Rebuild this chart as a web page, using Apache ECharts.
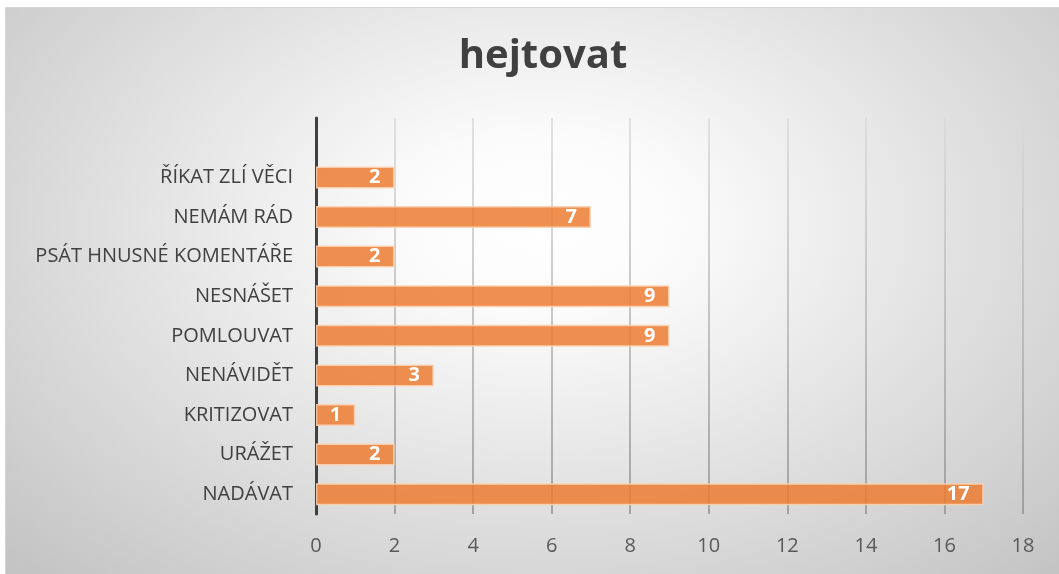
<!DOCTYPE html>
<html>
<head>
<meta charset="utf-8">
<script src="https://cdn.jsdelivr.net/npm/echarts@6/dist/echarts.min.js"></script>
<style>
  html, body { margin: 0; padding: 0; background: #fff; }
  #bg {
    position: absolute; left: 5px; top: 7px; right: 0; bottom: 0;
    border-top: 1px solid #d6d6d6; border-left: 1px solid #d6d6d6;
    background: radial-gradient(ellipse at 51% 38%, #ffffff 0%, #fbfbfb 18%, #c2c2c2 100%);
  }
  #chart { position: absolute; left: 0; top: 0; width: 1059px; height: 574px; }
</style>
</head>
<body>
<div id="bg"></div>
<div id="chart"></div>
<script>
// kategorie odspodu nahoru (poslední prázdná jako v originálu)
const categories = ['NADÁVAT', 'URÁŽET', 'KRITIZOVAT', 'NENÁVIDĚT', 'POMLOUVAT', 'NESNÁŠET', 'PSÁT HNUSNÉ KOMENTÁŘE', 'NEMÁM RÁD', 'ŘÍKAT ZLÍ VĚCI', ''];
const counts = [17, 2, 1, 3, 9, 9, 2, 7, 2, '-'];
const xTicks = [0, 2, 4, 6, 8, 10, 12, 14, 16, 18];

const chart = echarts.init(document.getElementById('chart'));

const gridColor = new echarts.graphic.LinearGradient(0, 0, 0, 1, [
  { offset: 0, color: '#dadada' },
  { offset: 1, color: '#8e8e8e' }
]);

chart.setOption({
  backgroundColor: 'transparent',
  textStyle: { fontFamily: 'Open Sans' },
  title: {
    text: 'hejtovat',
    left: 538, top: 32, textAlign: 'center',
    textStyle: { fontFamily: 'Open Sans', fontWeight: 'bold', fontSize: 40, color: '#404040' }
  },
  grid: { left: 316, right: 36, top: 118, bottom: 60, containLabel: false },
  xAxis: {
    type: 'value',
    min: xTicks[0], max: xTicks[xTicks.length - 1], interval: 2,
    axisLine: { show: false },
    axisTick: { show: false },
    axisLabel: { fontSize: 20, color: '#595959', margin: 22 },
    splitLine: { show: true, lineStyle: { color: gridColor, width: 1.5 } }
  },
  yAxis: {
    type: 'category',
    data: categories,
    axisLine: { show: true, lineStyle: { color: '#404040', width: 3 } },
    axisTick: { show: false },
    axisLabel: { fontSize: 20, color: '#404040', margin: 23 }
  },
  series: [{
    type: 'bar',
    data: counts,
    barWidth: 22,
    itemStyle: { color: 'rgba(237,125,49,0.85)', borderColor: 'rgba(250,210,180,0.9)', borderWidth: 1.5 },
    label: {
      show: true, position: 'insideRight', distance: 14,
      color: '#fff', fontWeight: 'bold', fontSize: 20
    }
  }]
});
</script>
</body>
</html>
